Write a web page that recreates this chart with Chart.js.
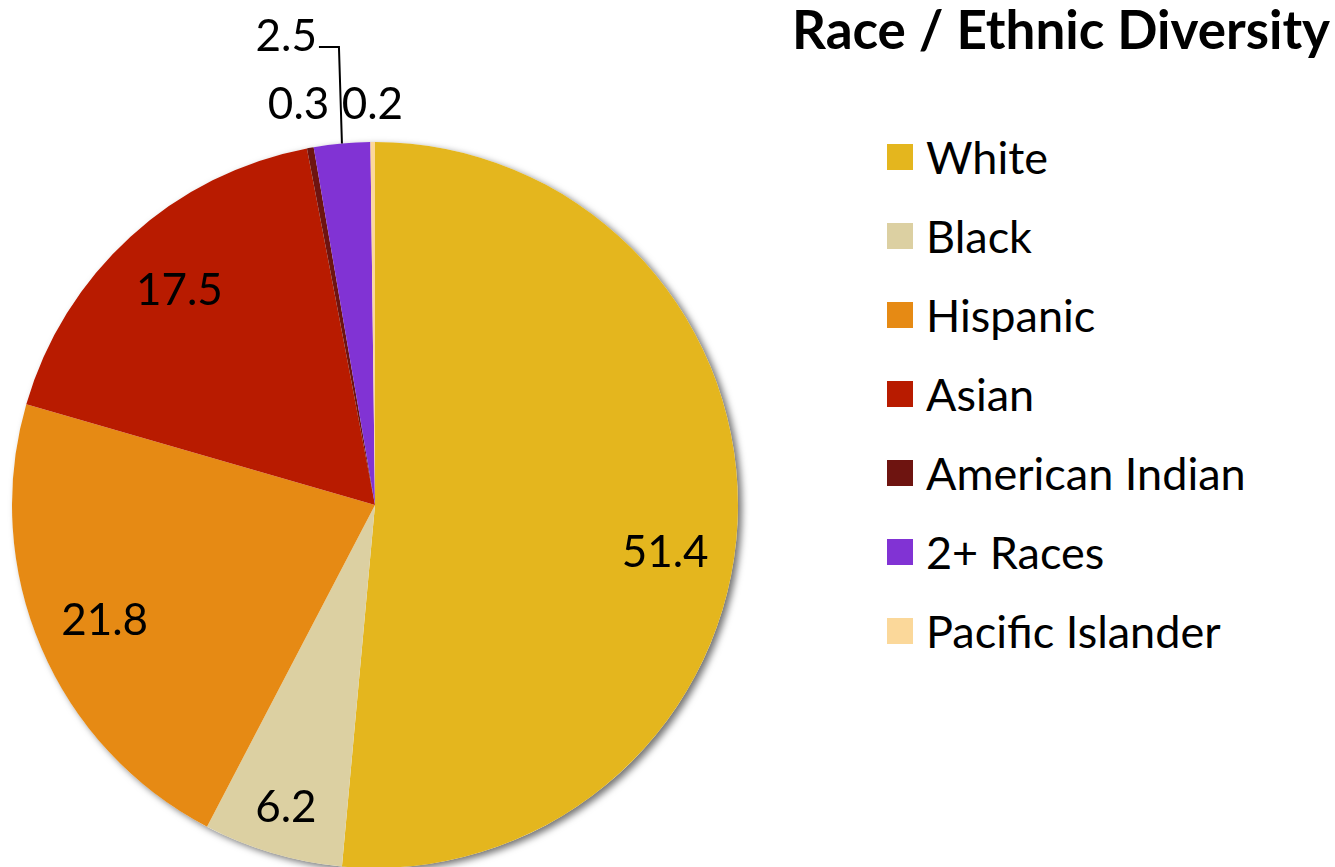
<!DOCTYPE html>
<html>
<head>
<meta charset="utf-8">
<script src="https://cdn.jsdelivr.net/npm/chart.js@4"></script>
<style>
  html, body { margin: 0; padding: 0; background: #fff; overflow: hidden; }
  body { width: 1335px; height: 867px; position: relative; font-family: Lato, "Open Sans", sans-serif; }
  #pieBox { position: absolute; left: 0; top: 0; width: 750px; height: 880px; }
  #titulo { position: absolute; left: 792px; top: -3px; font-size: 53px; line-height: 64px; font-weight: bold; color: #000; white-space: nowrap; }
  #legenda { position: absolute; left: 887px; top: 131px; }
  .item { height: 79px; display: flex; align-items: flex-start; }
  .caixa { width: 26px; height: 26px; margin-top: 13px; }
  .texto { margin-left: 13px; font-size: 45px; line-height: 52px; color: #000; white-space: nowrap; }
</style>
</head>
<body>
<div id="pieBox"><canvas id="grafico"></canvas></div>
<div id="titulo">Race / Ethnic Diversity</div>
<div id="legenda"></div>

<script>
const categorias = ['White', 'Black', 'Hispanic', 'Asian', 'American Indian', '2+ Races', 'Pacific Islander'];
const valores = [51.4, 6.2, 21.8, 17.5, 0.3, 2.5, 0.2];
const cores = ['#E4B61E', '#DCD0A2', '#E68A14', '#B81B00', '#6E1410', '#8133D4', '#FBD89A'];

document.addEventListener('DOMContentLoaded', function() {
  const ctx = document.getElementById('grafico').getContext('2d');

  // legenda em HTML, montada a partir dos arrays
  const legenda = document.getElementById('legenda');
  categorias.forEach(function(nome, i) {
    const item = document.createElement('div');
    item.className = 'item';
    item.innerHTML = '<div class="caixa" style="background:' + cores[i] + '"></div><div class="texto">' + nome + '</div>';
    legenda.appendChild(item);
  });

  // sombra discreta atras da pizza
  const sombra = {
    id: 'sombra',
    beforeDatasetsDraw(chart) {
      const arc = chart.getDatasetMeta(0).data[0];
      if (!arc) return;
      const c = chart.ctx;
      c.save();
      c.shadowColor = 'rgba(0,0,0,0.55)';
      c.shadowBlur = 7;
      c.shadowOffsetX = 4;
      c.shadowOffsetY = 3;
      c.fillStyle = '#fff';
      c.beginPath();
      c.arc(arc.x, arc.y, arc.outerRadius, 0, Math.PI * 2);
      c.fill();
      c.restore();
    }
  };

  // ajuste fino dos rotulos internos (fator do raio, deslocamento em y)
  const ajuste = { 0: [0.8, 35], 1: [0.87, 0], 2: [0.81, 0], 3: [0.8, 0] };

  // rotulos de valor
  const rotulos = {
    id: 'rotulos',
    afterDatasetsDraw(chart) {
      const c = chart.ctx;
      const arcs = chart.getDatasetMeta(0).data;
      c.save();
      c.font = '44px Lato, "Open Sans", sans-serif';
      c.fillStyle = '#000';
      c.textBaseline = 'middle';
      arcs.forEach(function(arc, i) {
        const meio = (arc.startAngle + arc.endAngle) / 2;
        const r = arc.outerRadius;
        const txt = valores[i].toFixed(1);
        if (valores[i] >= 5) {
          const f = ajuste[i][0];
          c.textAlign = 'center';
          c.fillText(txt, arc.x + Math.cos(meio) * r * f, arc.y + Math.sin(meio) * r * f + ajuste[i][1]);
        } else {
          const ox = arc.x + Math.cos(meio) * r;
          const topo = arc.y - r;
          if (i === 4) {
            c.textAlign = 'right';
            c.fillText(txt, ox + 19, topo - 37);
          } else if (i === 6) {
            c.textAlign = 'left';
            c.fillText(txt, ox - 31, topo - 37);
          } else {
            // 2+ Races com linha guia
            c.textAlign = 'right';
            c.fillText(txt, ox - 25, topo - 105);
            c.strokeStyle = '#000';
            c.lineWidth = 2;
            c.beginPath();
            c.moveTo(ox, arc.y + Math.sin(meio) * r);
            c.lineTo(ox - 3, topo - 95);
            c.lineTo(ox - 23, topo - 95);
            c.stroke();
          }
        }
      });
      c.restore();
    }
  };

  new Chart(ctx, {
    type: 'pie',
    data: {
      labels: categorias,
      datasets: [{
        data: valores,
        backgroundColor: cores,
        borderWidth: 0
      }]
    },
    options: {
      responsive: true,
      maintainAspectRatio: false,
      animation: false,
      layout: { padding: { top: 142, left: 12, right: 12, bottom: 12 } },
      plugins: {
        legend: { display: false },
        tooltip: { enabled: false }
      }
    },
    plugins: [sombra, rotulos]
  });
});
</script>
</body>
</html>
